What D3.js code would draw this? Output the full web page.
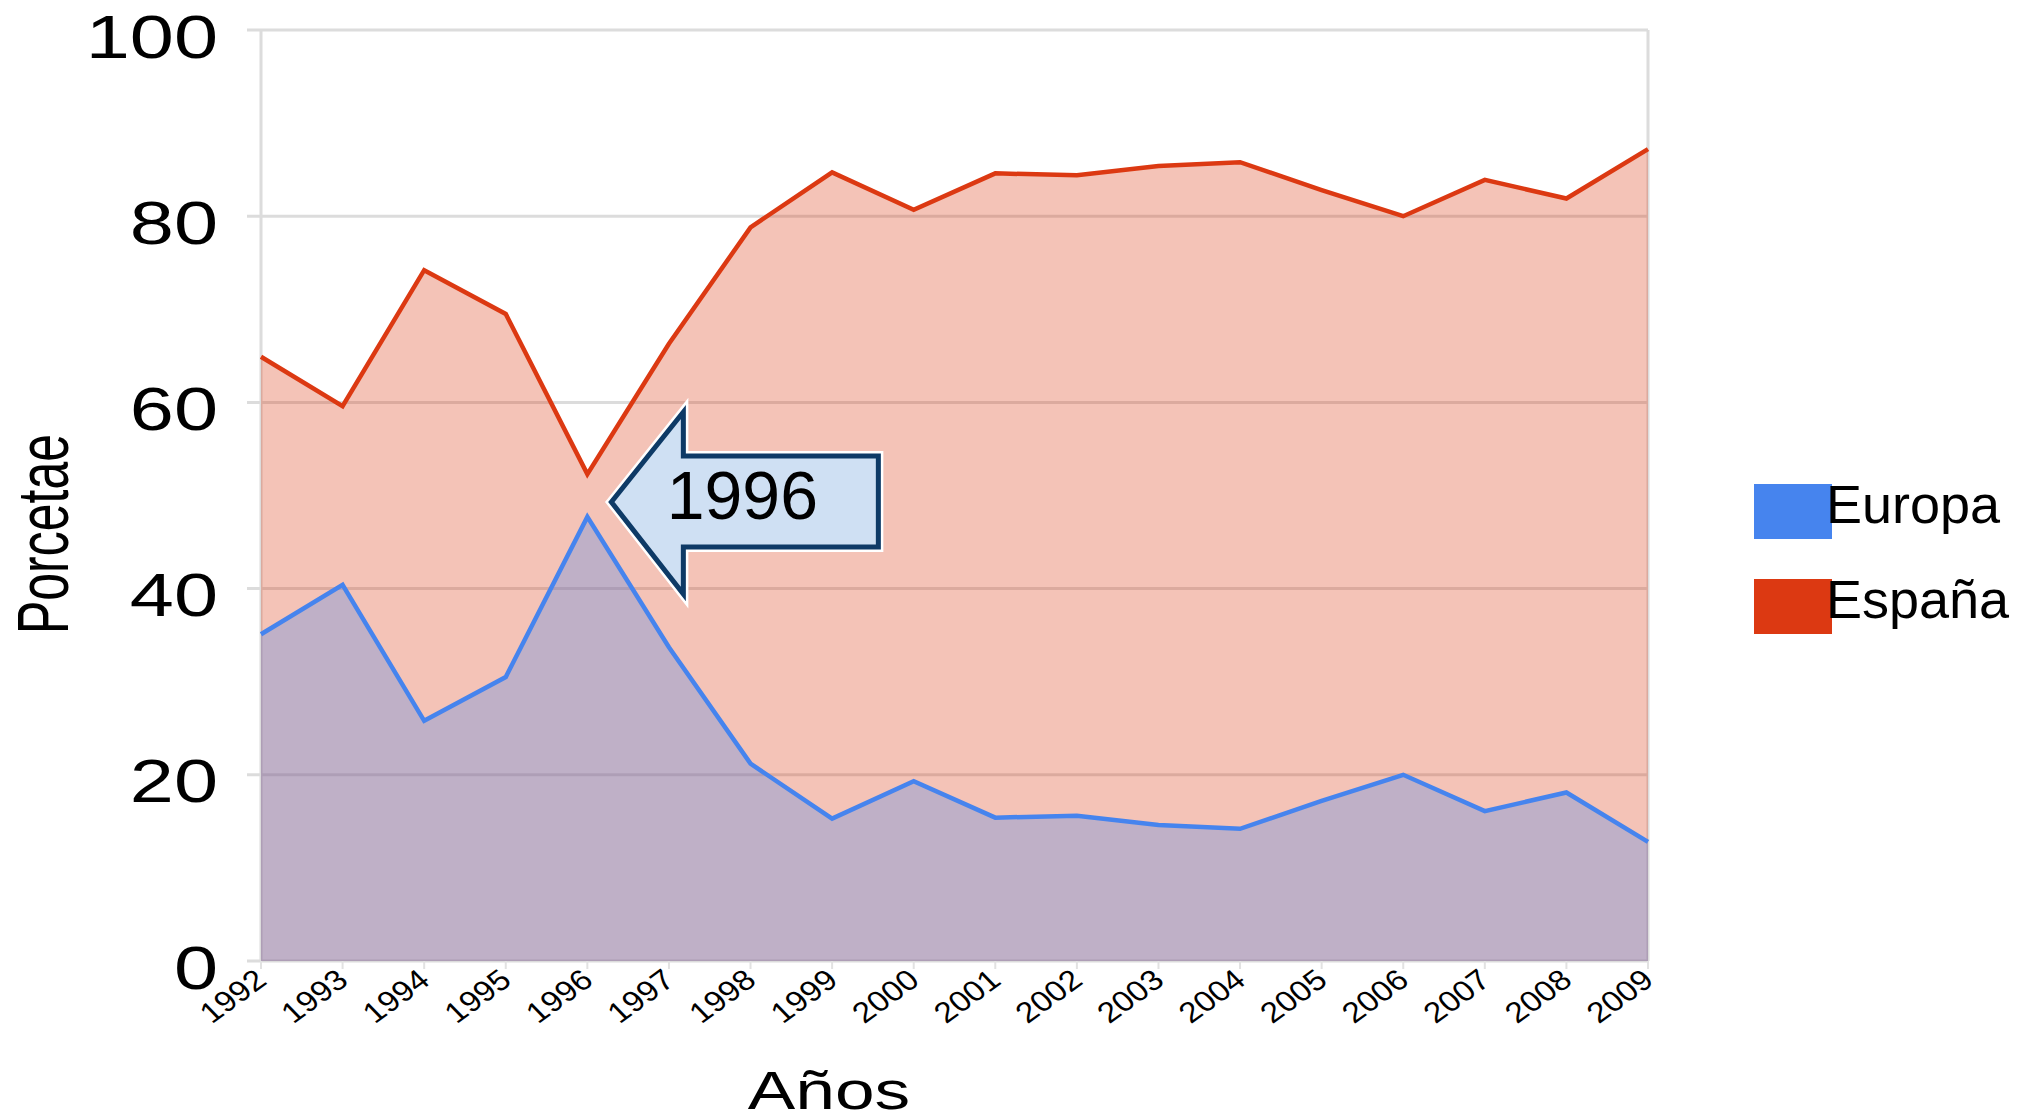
<!DOCTYPE html>
<html>
<head>
<meta charset="utf-8">
<script src="https://cdn.jsdelivr.net/npm/d3@7"></script>
<style>
  html, body { margin: 0; padding: 0; background: #ffffff; }
  svg { display: block; }
  text { font-family: "Liberation Sans", Arial, Helvetica, sans-serif; fill: #000; }
</style>
</head>
<body>
<svg id="chart" width="2017" height="1120"></svg>
<script>
// ---- data ----
const years = ["1992","1993","1994","1995","1996","1997","1998","1999","2000","2001","2002","2003","2004","2005","2006","2007","2008","2009"];
const europa = [35.1, 40.4, 25.8, 30.5, 47.7, 33.7, 21.2, 15.3, 19.3, 15.4, 15.6, 14.6, 14.2, 17.2, 20.0, 16.1, 18.1, 12.8];
const espana = [64.9, 59.6, 74.2, 69.5, 52.3, 66.3, 78.8, 84.7, 80.7, 84.6, 84.4, 85.4, 85.8, 82.8, 80.0, 83.9, 81.9, 87.2];
const yTicks = [0, 20, 40, 60, 80, 100];
const seriesNames = ["Europa", "España"];
const seriesColors = ["#4684EE", "#DC3912"];
const annotationYear = "1996";

(function () {
// ---- layout ----
const svg = d3.select("#chart");
const pLeft = 261, pRight = 1648, pTop = 30, pBottom = 961;

const x = d3.scalePoint().domain(years).range([pLeft, pRight]);
const y = d3.scaleLinear().domain([0, 100]).range([pBottom, pTop]);

// gridlines
const grid = svg.append("g");
grid.selectAll("line.h").data(yTicks).join("line")
  .attr("class", "h")
  .attr("x1", pLeft - 14).attr("x2", pRight)
  .attr("y1", d => y(d)).attr("y2", d => y(d))
  .attr("stroke", "#dcdcdc").attr("stroke-width", 3);
grid.selectAll("line.v").data([pLeft, pRight]).join("line")
  .attr("class", "v")
  .attr("x1", d => d).attr("x2", d => d)
  .attr("y1", pTop).attr("y2", pBottom)
  .attr("stroke", "#dcdcdc").attr("stroke-width", 3);
grid.selectAll("line.t").data(years).join("line")
  .attr("class", "t")
  .attr("x1", d => x(d)).attr("x2", d => x(d))
  .attr("y1", pBottom).attr("y2", pBottom + 8)
  .attr("stroke", "#e2e2e2").attr("stroke-width", 2);

// areas (overlapping, not stacked)
const rowsE = years.map((yr, i) => ({ yr, v: espana[i] }));
const rowsU = years.map((yr, i) => ({ yr, v: europa[i] }));

const area = d3.area().x(d => x(d.yr)).y0(y(0)).y1(d => y(d.v));
const line = d3.line().x(d => x(d.yr)).y(d => y(d.v));

svg.append("path").datum(rowsE).attr("d", area)
  .attr("fill", seriesColors[1]).attr("fill-opacity", 0.3);
svg.append("path").datum(rowsU).attr("d", area)
  .attr("fill", seriesColors[0]).attr("fill-opacity", 0.3);

svg.append("path").datum(rowsE).attr("d", line)
  .attr("fill", "none").attr("stroke", seriesColors[1]).attr("stroke-width", 4.5);
svg.append("path").datum(rowsU).attr("d", line)
  .attr("fill", "none").attr("stroke", seriesColors[0]).attr("stroke-width", 4.5);

// y axis labels
const yAxis = d3.axisLeft(y).tickValues(yTicks).tickSize(0).tickPadding(0);
const gy = svg.append("g").attr("transform", `translate(${pLeft},0)`).call(yAxis);
gy.select(".domain").remove();
gy.selectAll(".tick text")
  .attr("x", 0).attr("dy", null).attr("y", 0)
  .attr("text-anchor", "end")
  .style("font-size", "61px")
  .style("font-family", '"Liberation Sans", Arial, sans-serif')
  .attr("fill", "#000")
  .attr("transform", "translate(-43,27) scale(1.3,1)");

// x axis labels
const xAxis = d3.axisBottom(x).tickSize(0).tickPadding(0);
const gx = svg.append("g").attr("transform", `translate(0,${pBottom})`).call(xAxis);
gx.select(".domain").remove();
gx.selectAll(".tick text")
  .attr("y", 0).attr("dy", null)
  .attr("text-anchor", "end")
  .style("font-size", "29px")
  .style("font-family", '"Liberation Sans", Arial, sans-serif')
  .attr("fill", "#111")
  .attr("transform", "translate(7,22) scale(1.15,1) rotate(-40)");

// axis titles
svg.append("text")
  .attr("transform", `translate(829,1109) scale(1.32,1)`)
  .attr("text-anchor", "middle")
  .style("font-size", "54px")
  .text("Años");

svg.append("text")
  .attr("transform", `translate(68,534) scale(1.45,1) rotate(-90)`)
  .attr("text-anchor", "middle")
  .style("font-size", "50px")
  .text("Porcetae");

// legend
const legend = svg.append("g");
seriesNames.forEach((name, i) => {
  const ly = 484 + i * 95;
  legend.append("rect")
    .attr("x", 1754).attr("y", ly).attr("width", 78).attr("height", 55)
    .attr("fill", seriesColors[i]);
  legend.append("text")
    .attr("x", 1826).attr("y", ly + 39)
    .style("font-size", "54px")
    .text(name);
});

// annotation arrow pointing at 1996
const ax = x(annotationYear) + 24;
const ay = y(49.3);
const arrowPts = [
  [ax, ay],
  [ax + 72, ay - 90],
  [ax + 72, ay - 46],
  [ax + 267, ay - 46],
  [ax + 267, ay + 45],
  [ax + 72, ay + 45],
  [ax + 72, ay + 92]
];
const arrowG = svg.append("g");
arrowG.append("polygon")
  .attr("points", arrowPts.map(p => p.join(",")).join(" "))
  .attr("fill", "none").attr("stroke", "#ffffff").attr("stroke-width", 10);
arrowG.append("polygon")
  .attr("points", arrowPts.map(p => p.join(",")).join(" "))
  .attr("fill", "#CFE0F3").attr("stroke", "#0E3A66").attr("stroke-width", 5);
arrowG.append("text")
  .attr("x", ax + 131).attr("y", ay + 17)
  .attr("text-anchor", "middle")
  .style("font-size", "68px")
  .text(annotationYear);
})();
</script>
</body>
</html>
